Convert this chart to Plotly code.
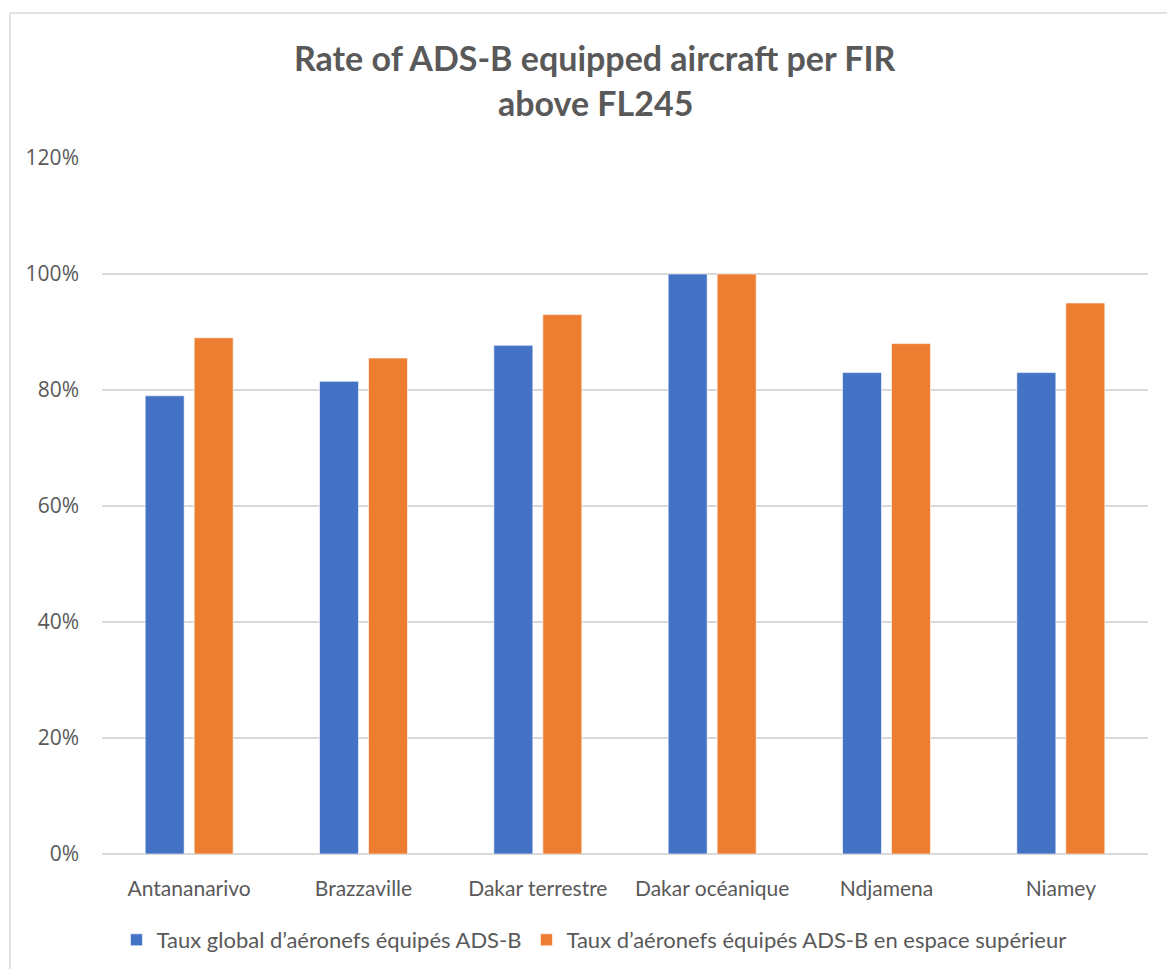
import plotly.graph_objects as go

# FIR categories and equipage rates (%)
firs = ["Antananarivo", "Brazzaville", "Dakar terrestre", "Dakar océanique", "Ndjamena", "Niamey"]
taux_global = [79, 81.5, 87.7, 100, 83, 83]
taux_superieur = [89, 85.5, 93, 100, 88, 95]

series_names = [
    "Taux global d’aéronefs équipés ADS-B",
    "Taux d’aéronefs équipés ADS-B en espace supérieur",
]
y_ticks = [0, 20, 40, 60, 80, 100, 120]
y_tick_labels = [f"{v}%" for v in y_ticks]

W, H = 1167, 969
ML, MR, MT, MB = 102, 19, 158, 115
PW, PH = W - ML - MR, H - MT - MB

FONT = "Lato"
GREY = "#595959"


def px_to_paper_x(px):
    return (px - ML) / PW


def px_to_paper_y(py):
    return (H - MB - py) / PH


fig = go.Figure()
fig.add_trace(go.Bar(x=firs, y=taux_global, name=series_names[0],
                     marker=dict(color="#4472C4", line=dict(color="white", width=0.6))))
fig.add_trace(go.Bar(x=firs, y=taux_superieur, name=series_names[1],
                     marker=dict(color="#ED7D31", line=dict(color="white", width=0.6))))

# Chart frame (top and left border lines)
fig.add_shape(type="line", xref="paper", yref="paper",
              x0=px_to_paper_x(10), x1=px_to_paper_x(W + 5),
              y0=px_to_paper_y(13), y1=px_to_paper_y(13),
              line=dict(color="#d9d9d9", width=1.5))
fig.add_shape(type="line", xref="paper", yref="paper",
              x0=px_to_paper_x(10), x1=px_to_paper_x(10),
              y0=px_to_paper_y(13), y1=px_to_paper_y(H + 5),
              line=dict(color="#d9d9d9", width=1.5))

# Two-line title
for text, ypx in [("Rate of ADS-B equipped aircraft per FIR", 58), ("above FL245", 103)]:
    fig.add_annotation(text=f"<b>{text}</b>", xref="paper", yref="paper",
                       x=px_to_paper_x(595), y=px_to_paper_y(ypx),
                       xanchor="center", yanchor="middle", showarrow=False,
                       font=dict(family=FONT, size=34, color=GREY))

fig.update_layout(
    width=W, height=H,
    margin=dict(l=ML, r=MR, t=MT, b=MB, autoexpand=False),
    paper_bgcolor="white", plot_bgcolor="white",
    barmode="group", bargap=0.438, bargroupgap=0.204,
    font=dict(family=FONT, color=GREY),
    showlegend=True,
    legend=dict(orientation="h", x=px_to_paper_x(594), xanchor="center",
                y=px_to_paper_y(940), yanchor="middle",
                font=dict(family=FONT, size=22, color=GREY),
                itemwidth=30, tracegroupgap=0),
    xaxis=dict(showgrid=False, showline=False, ticks="", ticklabelstandoff=20,
               automargin=False,
               tickfont=dict(family=FONT, size=21, color=GREY)),
    yaxis=dict(range=[0, 120], tickvals=y_ticks, ticktext=y_tick_labels,
               showgrid=True, gridcolor="#d9d9d9", gridwidth=1.5,
               zeroline=True, zerolinecolor="#d9d9d9", zerolinewidth=1.5,
               showline=False, ticks="", ticklabelstandoff=22, automargin=False,
               tickfont=dict(family="Open Sans", size=21, color=GREY)),
)

fig.write_html("out.html")
